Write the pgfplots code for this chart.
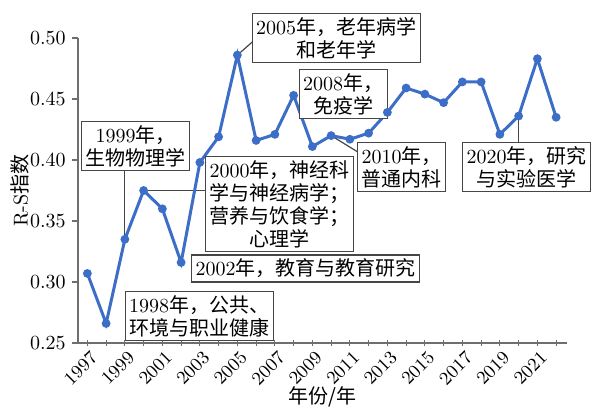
\documentclass[border=0pt]{standalone}
\usepackage{fontspec}
\newfontfamily\cjk{Noto Sans CJK SC}
\usepackage{pgfplots}
\pgfplotsset{compat=1.18}
\definecolor{lineblue}{RGB}{60,110,200}
\definecolor{boxgray}{RGB}{70,70,70}
\definecolor{axgray}{RGB}{110,110,110}
\newcommand{\fs}{\rmfamily\fontsize{10}{11.5}\selectfont}
\newcommand{\fsx}{\rmfamily\fontsize{9.3}{11}\selectfont}
\tikzset{box/.style={draw=boxgray, fill=white, line width=0.6pt, inner sep=2pt, align=center, font=\fs}}
\begin{document}
\begin{tikzpicture}
\begin{axis}[
  x=9.375pt, y=610pt,
  xmin=1996.5, xmax=2022.6, ymin=0.25, ymax=0.50,
  clip=false,
  axis x line*=bottom, axis y line*=left,
  axis line style={axgray, line width=0.6pt, -},
  xtick={1997,1999,2001,2003,2005,2007,2009,2011,2013,2015,2017,2019,2021},
  xticklabels={1997,1999,2001,2003,2005,2007,2009,2011,2013,2015,2017,2019,2021},
  minor xtick={1998,2000,2002,2004,2006,2008,2010,2012,2014,2016,2018,2020,2022},
  ytick={0.25,0.30,0.35,0.40,0.45,0.50},
  yticklabels={0.25,0.30,0.35,0.40,0.45,0.50},
  /pgf/number format/assume math mode=true,
  major tick length=3pt, minor tick length=3pt,
  x tick style={axgray, line width=0.6pt},
  y tick style={axgray, line width=0.6pt},
  xtick align=center, ytick align=outside,
  yticklabel style={font=\fs, inner sep=2pt, xshift=-1pt},
  xticklabel style={font=\fsx, rotate=45, anchor=north east, inner sep=0.5pt, yshift=-1.5pt},
  xlabel={{\cjk 年份/年}},
  ylabel={R-S{\cjk 指数}},
  label style={font=\fs},
  xlabel style={at={(axis description cs:0.5,-0.177)}, anchor=center},
  ylabel style={at={(axis description cs:-0.1185,0.5)}, anchor=center},
]
% connectors
\draw[boxgray, line width=0.6pt] (axis cs:2005,0.486) -- (axis cs:2005.98,0.4992);
\draw[boxgray, line width=0.6pt] (axis cs:1999,0.335) -- (axis cs:1999,0.3918);
\draw[boxgray, line width=0.6pt] (axis cs:2000,0.375) -- (axis cs:2003.47,0.375);
\draw[boxgray, line width=0.6pt] (axis cs:2010,0.420) -- (axis cs:2011.42,0.4066);
\draw[boxgray, line width=0.6pt] (axis cs:2020,0.436) -- (axis cs:2020,0.414);

\addplot[lineblue, line width=1.5pt, mark=*, mark size=1.4pt, mark options={fill=lineblue, draw=lineblue}]
coordinates {
(1997,0.307) (1998,0.266) (1999,0.335) (2000,0.375) (2001,0.360)
(2002,0.316) (2003,0.398) (2004,0.419) (2005,0.486) (2006,0.416)
(2007,0.421) (2008,0.453) (2009,0.411) (2010,0.420) (2011,0.417)
(2012,0.422) (2013,0.439) (2014,0.459) (2015,0.454) (2016,0.447)
(2017,0.464) (2018,0.464) (2019,0.421) (2020,0.436) (2021,0.483)
(2022,0.435)
};

\node[box] at (axis cs:2010.27,0.500) {2005{\cjk 年，老年病学}\\{\cjk 和老年学}};
\node[box] at (axis cs:2010.64,0.4541) {2008{\cjk 年，}\\{\cjk 免疫学}};
\node[box] at (axis cs:1999.58,0.4115) {1999{\cjk 年，}\\{\cjk 生物物理学}};
\node[box] at (axis cs:2007.26,0.3639) {2000{\cjk 年，神经科}\\{\cjk 学与神经病学；}\\{\cjk 营养与饮食学；}\\{\cjk 心理学}};
\node[box] at (axis cs:2008.64,0.3111) {2002{\cjk 年，教育与教育研究}};
\node[box] at (axis cs:2002.96,0.2721) {1998{\cjk 年，公共、}\\{\cjk 环境与职业健康}};
\node[box] at (axis cs:2013.76,0.3943) {2010{\cjk 年，}\\{\cjk 普通内科}};
\node[box] at (axis cs:2020.43,0.3943) {2020{\cjk 年，研究}\\{\cjk 与实验医学}};
\end{axis}
\pgfresetboundingbox
\useasboundingbox (-39pt,-34pt) rectangle (256.5pt,171.5pt);
\end{tikzpicture}
\end{document}
